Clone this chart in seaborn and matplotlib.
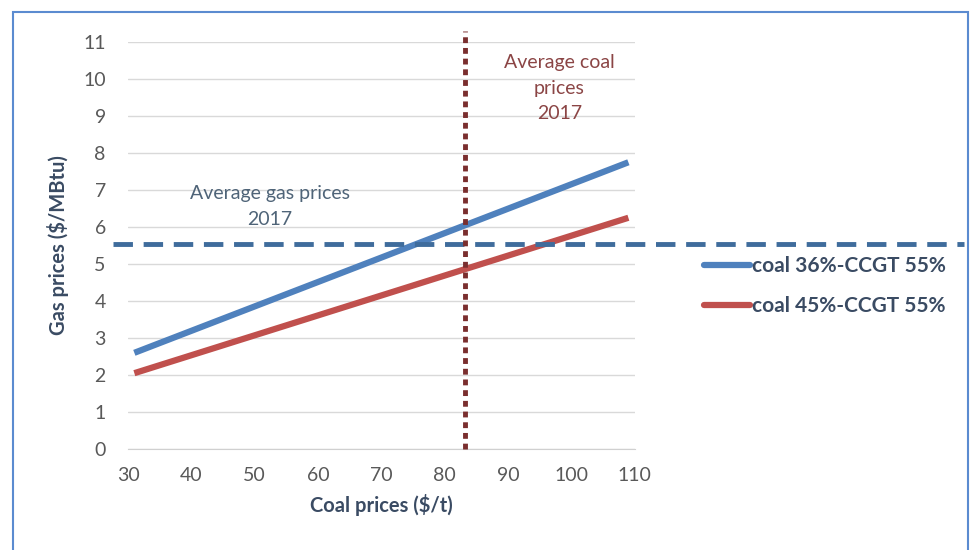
import pandas as pd
import seaborn as sns
import matplotlib.pyplot as plt
from matplotlib.patches import Rectangle

# Data
coal_prices = [31, 109]
gas_36 = [2.6, 7.75]
gas_45 = [2.05, 6.25]
series_names = ['coal 36%-CCGT 55%', 'coal 45%-CCGT 55%']
avg_gas_2017 = 5.55
avg_coal_2017 = 83.2
x_ticks = [30, 40, 50, 60, 70, 80, 90, 100, 110]
y_ticks = list(range(0, 12))

df = pd.DataFrame({
    'Coal prices': coal_prices * 2,
    'Gas prices': gas_36 + gas_45,
    'Series': [series_names[0]] * 2 + [series_names[1]] * 2,
})

sns.set_style('white')
plt.rcParams['font.family'] = ['Lato', 'DejaVu Sans']

fig = plt.figure(figsize=(9.72, 5.5), dpi=100)
ax = fig.add_axes([0.1317, 0.1836, 0.5213, 0.74])

palette = {series_names[0]: '#4F81BD', series_names[1]: '#C0504D'}
sns.lineplot(data=df, x='Coal prices', y='Gas prices', hue='Series',
             palette=palette, linewidth=4.5, ax=ax, legend=False,
             solid_capstyle='butt')

# reference lines (extend past the plot area like in the original)
ax.plot([27.6, 162], [avg_gas_2017] * 2, color='#3F6C9C', lw=3.5,
        dashes=(4, 2.2), clip_on=False, zorder=4)
ax.plot([avg_coal_2017] * 2, [0, 11.3], color='#7A2E2E', lw=3.5,
        dashes=(1.2, 1.0), clip_on=False, zorder=4)

ax.text(52.4, 6.55, 'Average gas prices\n2017', ha='center', va='center',
        fontsize=14, color='#4F6478', linespacing=1.65)
ax.text(98.1, 9.75, 'Average coal\nprices\n2017', ha='center', va='center',
        fontsize=14, color='#8B4545', linespacing=1.6)

ax.set_xlim(30, 110)
ax.set_ylim(0, 11)
ax.set_xticks(x_ticks)
ax.set_yticks(y_ticks)
ax.yaxis.grid(True, color='#D9D9D9', lw=1)
ax.xaxis.grid(False)
for s in ['top', 'right', 'left']:
    ax.spines[s].set_visible(False)
ax.spines['bottom'].set_color('#D0D0D0')
ax.tick_params(axis='x', direction='inout', length=8, color='#D0D0D0',
               labelsize=14, labelcolor='#595959', pad=9)
ax.tick_params(axis='y', length=0, labelsize=14, labelcolor='#595959', pad=16)

ax.set_xlabel('Coal prices ($/t)', fontsize=14.5, fontweight='bold',
              color='#3A4B63', labelpad=7)
ax.set_ylabel('Gas prices ($/MBtu)', fontsize=14.5, fontweight='bold',
              color='#3A4B63', labelpad=10)

# legend placed to the right of the plot
handles = [plt.Line2D([], [], color=palette[n], lw=4.5) for n in series_names]
fig.legend(handles, series_names, loc='upper left',
           bbox_to_anchor=(0.705, 0.568), frameon=False,
           handlelength=2.2, handletextpad=0.1, labelspacing=0.95,
           prop={'weight': 'bold', 'size': 15})
for t in fig.legends[0].get_texts():
    t.set_color('#3A4B63')

# blue frame around the whole chart
fig.patches.append(Rectangle((0.013, -0.05), 0.983, 1.028, transform=fig.transFigure,
                             fill=False, edgecolor='#5B8BD0', lw=1.5))

fig.savefig('out.png', dpi=100)
